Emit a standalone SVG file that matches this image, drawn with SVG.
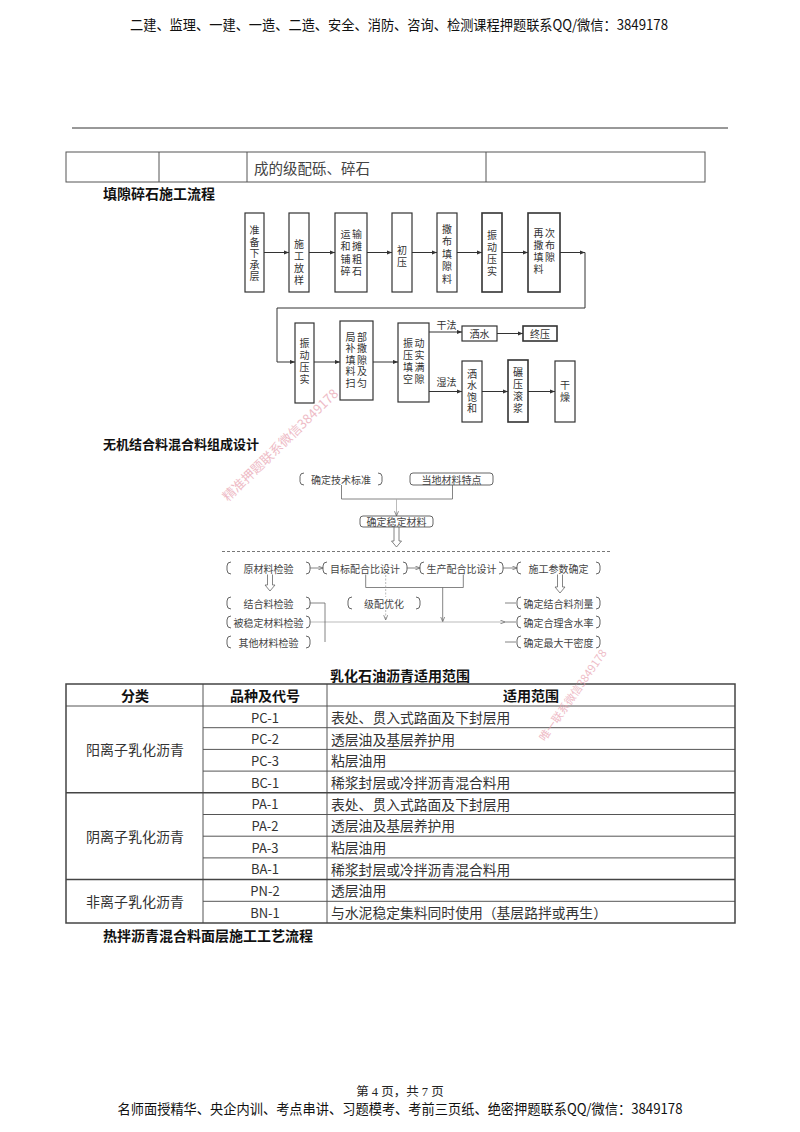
<svg xmlns="http://www.w3.org/2000/svg" width="800" height="1132" viewBox="0 0 800 1132">
<style>
text{font-family:"Noto Sans CJK SC","Noto Sans",sans-serif}
.hdr{font-size:14px;fill:#111;text-anchor:middle}
.ttl{font-size:14px;font-weight:700;fill:#111}
.box{fill:#fff;stroke:#333;stroke-width:1.2}
.t1{font-size:10px;fill:#333;text-anchor:middle;dominant-baseline:central}
.v{font-size:10px;fill:#333;text-anchor:middle;writing-mode:vertical-rl;letter-spacing:2px}
.conn{fill:none;stroke:#333;stroke-width:1}
.t2{font-size:10px;fill:#444;text-anchor:middle;dominant-baseline:central}
.br{fill:none;stroke:#555;stroke-width:0.9}
.c2{fill:none;stroke:#666;stroke-width:0.8}
.c2l{fill:none;stroke:#aaa;stroke-width:0.8}
.hol{fill:#fff;stroke:#666;stroke-width:0.8}
.tb{fill:none;stroke:#555;stroke-width:1}
.tbo{fill:none;stroke:#444;stroke-width:1.5}
.th{font-size:14px;font-weight:700;fill:#111;text-anchor:middle;dominant-baseline:central}
.tc{font-size:13px;fill:#333;text-anchor:middle;dominant-baseline:central}
.td{font-size:13.8px;fill:#333;dominant-baseline:central}
.wm{font-size:12px;fill:#e8a0ae;opacity:0.7;font-family:"Noto Sans CJK SC",serif}
</style>
<defs>
<marker id="ah" viewBox="0 0 6 6" refX="6" refY="3" markerWidth="5" markerHeight="5" orient="auto"><path d="M0,0.5 L6,3 L0,5.5z" fill="#333"/></marker>
<marker id="ah2" viewBox="0 0 6 6" refX="6" refY="3" markerWidth="6" markerHeight="6" orient="auto"><path d="M0,0.5 L6,3 L0,5.5" fill="none" stroke="#666" stroke-width="0.9"/></marker>
</defs>
<rect width="800" height="1132" fill="#fff"/>

<g id="header">
<text class="hdr" x="399" y="30" textLength="538" lengthAdjust="spacingAndGlyphs">二建、监理、一建、一造、二造、安全、消防、咨询、检测课程押题联系QQ/微信：3849178</text>
<line x1="72" y1="128" x2="728" y2="128" stroke="#333" stroke-width="1"/>
</g>

<g id="top-table">
<rect x="66" y="152" width="639" height="30" class="tb"/>
<line x1="159" y1="152" x2="159" y2="182" class="tb"/>
<line x1="247" y1="152" x2="247" y2="182" class="tb"/>
<line x1="486" y1="152" x2="486" y2="182" class="tb"/>
<text x="254" y="167" class="td" style="font-size:14.5px;fill:#444">成的级配砾、碎石</text>
</g>

<text class="ttl" x="103" y="199">填隙碎石施工流程</text>

<g id="flow1-connectors">
<line x1="264" y1="252.5" x2="289" y2="252.5" class="conn" marker-end="url(#ah)"/>
<line x1="309" y1="252.5" x2="335" y2="252.5" class="conn" marker-end="url(#ah)"/>
<line x1="367" y1="252.5" x2="392" y2="252.5" class="conn" marker-end="url(#ah)"/>
<line x1="412" y1="252.5" x2="437" y2="252.5" class="conn" marker-end="url(#ah)"/>
<line x1="457" y1="252.5" x2="482" y2="252.5" class="conn" marker-end="url(#ah)"/>
<line x1="502" y1="252.5" x2="528" y2="252.5" class="conn" marker-end="url(#ah)"/>
<line x1="560" y1="252.5" x2="585" y2="252.5" class="conn" marker-end="url(#ah)"/>
<polyline points="585,252.5 585,308 277,308 277,362 295,362" class="conn" marker-end="url(#ah)"/>
<line x1="314" y1="362" x2="340" y2="362" class="conn" marker-end="url(#ah)"/>
<line x1="373" y1="362" x2="398" y2="362" class="conn" marker-end="url(#ah)"/>
<line x1="429" y1="332" x2="462" y2="332" class="conn" marker-end="url(#ah)"/>
<line x1="497" y1="333.5" x2="523" y2="333.5" class="conn" marker-end="url(#ah)"/>
<line x1="429" y1="391.5" x2="462" y2="391.5" class="conn" marker-end="url(#ah)"/>
<line x1="482" y1="391.5" x2="508" y2="391.5" class="conn" marker-end="url(#ah)"/>
<line x1="528" y1="391.5" x2="555" y2="391.5" class="conn" marker-end="url(#ah)"/>
<text class="t1" x="446.5" y="324">干法</text>
<text class="t1" x="446.5" y="381">湿法</text>
</g>

<g id="f1-n1"><rect x="245" y="213" width="19" height="79" class="box"/>
<text class="v" x="254.5" y="254" style="letter-spacing:1.5px">准备下承层</text></g>
<g id="f1-n2"><rect x="289" y="213" width="20" height="79" class="box"/>
<text class="v" x="299" y="263">施工放样</text></g>
<g id="f1-n3"><rect x="335" y="213" width="32" height="79" class="box"/>
<text class="v" x="345.5" y="254" style="letter-spacing:2.5px">运和铺碎</text>
<text class="v" x="357" y="254" style="letter-spacing:2.5px">输摊粗石</text></g>
<g id="f1-n4"><rect x="392" y="213" width="20" height="79" class="box"/>
<text class="v" x="402" y="257">初压</text></g>
<g id="f1-n5"><rect x="437" y="213" width="20" height="79" class="box"/>
<text class="v" x="447" y="255" style="letter-spacing:2.5px">撒布填隙料</text></g>
<g id="f1-n6"><rect x="482" y="213" width="20" height="79" class="box" style="stroke-width:1.6"/>
<text class="v" x="492" y="254">振动压实</text></g>
<g id="f1-n7"><rect x="528" y="213" width="32" height="79" class="box" style="stroke-width:1.6"/>
<text class="v" x="538.5" y="252.5">再撒填料</text>
<text class="v" x="550" y="246.5">次布隙</text></g>

<g id="f1-m1"><rect x="295" y="323" width="19" height="80" class="box"/>
<text class="v" x="304.5" y="362">振动压实</text></g>
<g id="f1-m2"><rect x="340" y="321" width="33" height="79" class="box"/>
<text class="v" x="350.5" y="360.5" style="letter-spacing:1.5px">局补填料扫</text>
<text class="v" x="362" y="360.5" style="letter-spacing:1.5px">部撒隙及匀</text></g>
<g id="f1-m3"><rect x="398" y="323" width="31" height="79" class="box"/>
<text class="v" x="408" y="362">振压填空</text>
<text class="v" x="419.5" y="362">动实满隙</text></g>
<g id="f1-m4"><rect x="462" y="326" width="35" height="15" class="box"/><text class="t1" x="479.5" y="333.5">洒水</text></g>
<g id="f1-m5"><rect x="523" y="326" width="34" height="15" class="box" style="stroke-width:1.6"/><text class="t1" x="540" y="333.5">终压</text></g>
<g id="f1-m6"><rect x="462" y="361" width="20" height="61" class="box"/>
<text class="v" x="472" y="392" style="letter-spacing:1.5px">洒水饱和</text></g>
<g id="f1-m7"><rect x="508" y="360" width="20" height="62" class="box" style="stroke-width:1.6"/>
<text class="v" x="518" y="391.5">碾压滚浆</text></g>
<g id="f1-m8"><rect x="555" y="361" width="20" height="61" class="box"/>
<text class="v" x="565" y="392.5">干燥</text></g>

<text class="ttl" x="103" y="449" style="font-size:13px">无机结合料混合料组成设计</text>

<g id="flow2-connectors">
<polyline points="341.5,485 341.5,499 452.5,499 452.5,485" class="c2"/>
<line x1="396.5" y1="499" x2="396.5" y2="516" class="c2l" marker-end="url(#ah2)"/>
<path d="M394,527 V541 H391.5 L396.5,547 L401.5,541 H399 V527" class="hol"/>
<line x1="222" y1="551.5" x2="610" y2="551.5" stroke="#555" stroke-width="0.8" stroke-dasharray="3,2"/>
<line x1="310" y1="568" x2="323" y2="568" class="c2" marker-end="url(#ah2)"/>
<line x1="407" y1="568" x2="420" y2="568" class="c2" marker-end="url(#ah2)"/>
<line x1="503" y1="568" x2="517" y2="568" class="c2" marker-end="url(#ah2)"/>
<path d="M267.5,574.5 V585 H265 L270,591 L275,585 H272.5 V574.5" class="hol"/>
<path d="M557.5,574.5 V587 H555 L560,593 L565,587 H562.5 V574.5" class="hol"/>
<polyline points="365.7,574.5 365.7,587.5 463.3,587.5 463.3,574.5" class="c2"/>
<line x1="442.7" y1="587.5" x2="442.7" y2="621.7" class="c2" marker-end="url(#ah2)"/>
<line x1="385.7" y1="575" x2="385.7" y2="620" class="c2l" stroke-dasharray="2,1.5" marker-end="url(#ah2)"/>
<line x1="310" y1="622" x2="505" y2="622" class="c2l" marker-end="url(#ah2)"/>
<polyline points="310,603 325,603 325,642" class="c2"/>
<line x1="505" y1="603" x2="516" y2="603" class="c2"/>
<line x1="505" y1="622" x2="516" y2="622" class="c2"/>
<line x1="505" y1="642" x2="516" y2="642" class="c2"/>
</g>

<g id="f2-k1"><path d="M304,473 Q300,473 300,476.5 V481.5 Q300,485 304,485 M378,473 Q382,473 382,476.5 V481.5 Q382,485 378,485" class="br"/><text class="t2" x="341" y="479">确定技术标准</text></g>
<g id="f2-k2"><rect x="410" y="473" width="83" height="12" rx="3" class="br"/><text class="t2" x="451.5" y="479">当地材料特点</text></g>
<g id="f2-k3"><rect x="360" y="516" width="73" height="11" rx="3" class="br" style="fill:#fff"/><text class="t2" x="396.5" y="521.5">确定稳定材料</text></g>

<g id="f2-r1"><path d="M231,562 Q227,562 227,566 V570 Q227,574 231,574 M306,562 Q310,562 310,566 V570 Q310,574 306,574" class="br"/><text class="t2" x="268.5" y="568">原材料检验</text></g>
<g id="f2-r2"><path d="M327,562 Q323,562 323,566 V570 Q323,574 327,574 M403,562 Q407,562 407,566 V570 Q407,574 403,574" class="br"/><text class="t2" x="365" y="568">目标配合比设计</text></g>
<g id="f2-r3"><path d="M424,562 Q420,562 420,566 V570 Q420,574 424,574 M499,562 Q503,562 503,566 V570 Q503,574 499,574" class="br"/><text class="t2" x="461.5" y="568">生产配合比设计</text></g>
<g id="f2-r4"><path d="M521,562 Q517,562 517,566 V570 Q517,574 521,574 M596,562 Q600,562 600,566 V570 Q600,574 596,574" class="br"/><text class="t2" x="558.5" y="568">施工参数确定</text></g>
<g id="f2-s1"><path d="M231,597 Q227,597 227,601 V605 Q227,609 231,609 M306,597 Q310,597 310,601 V605 Q310,609 306,609" class="br"/><text class="t2" x="268.5" y="603">结合料检验</text></g>
<g id="f2-s2"><path d="M231,616 Q227,616 227,620 V624 Q227,628 231,628 M306,616 Q310,616 310,620 V624 Q310,628 306,628" class="br"/><text class="t2" x="268.5" y="622">被稳定材料检验</text></g>
<g id="f2-s3"><path d="M231,636 Q227,636 227,640 V644 Q227,648 231,648 M306,636 Q310,636 310,640 V644 Q310,648 306,648" class="br"/><text class="t2" x="268.5" y="642">其他材料检验</text></g>
<g id="f2-g"><rect x="348" y="597" width="72" height="12" fill="#fff"/><path d="M352,597 Q348,597 348,601 V605 Q348,609 352,609 M416,597 Q420,597 420,601 V605 Q420,609 416,609" class="br"/><text class="t2" x="384" y="603">级配优化</text></g>
<g id="f2-e1"><path d="M521,597 Q517,597 517,601 V605 Q517,609 521,609 M596,597 Q600,597 600,601 V605 Q600,609 596,609" class="br"/><text class="t2" x="558.5" y="603">确定结合料剂量</text></g>
<g id="f2-e2"><path d="M521,616 Q517,616 517,620 V624 Q517,628 521,628 M596,616 Q600,616 600,620 V624 Q600,628 596,628" class="br"/><text class="t2" x="558.5" y="622">确定合理含水率</text></g>
<g id="f2-e3"><path d="M521,636 Q517,636 517,640 V644 Q517,648 521,648 M596,636 Q600,636 600,640 V644 Q600,648 596,648" class="br"/><text class="t2" x="558.5" y="642">确定最大干密度</text></g>

<g id="emulsion-table">
<text class="ttl" x="400" y="681" text-anchor="middle">乳化石油沥青适用范围</text>
<line x1="203" y1="684" x2="203" y2="923" class="tb"/>
<line x1="327" y1="684" x2="327" y2="923" class="tb"/>
<line x1="66" y1="706" x2="735" y2="706" class="tb"/>
<line x1="203" y1="727.7" x2="735" y2="727.7" class="tb"/>
<line x1="203" y1="749.4" x2="735" y2="749.4" class="tb"/>
<line x1="203" y1="771.1" x2="735" y2="771.1" class="tb"/>
<line x1="66" y1="792.8" x2="735" y2="792.8" class="tbo"/>
<line x1="203" y1="814.5" x2="735" y2="814.5" class="tb"/>
<line x1="203" y1="836.2" x2="735" y2="836.2" class="tb"/>
<line x1="203" y1="857.9" x2="735" y2="857.9" class="tb"/>
<line x1="66" y1="879.6" x2="735" y2="879.6" class="tbo"/>
<line x1="203" y1="901.3" x2="735" y2="901.3" class="tb"/>
<rect x="66" y="684" width="669" height="239" class="tbo"/>
<text class="th" x="135" y="695">分类</text>
<text class="th" x="265" y="695">品种及代号</text>
<text class="th" x="531" y="695">适用范围</text>
<text class="td" x="135" y="749.4" text-anchor="middle" style="font-size:14px">阳离子乳化沥青</text>
<text class="td" x="135" y="836.2" text-anchor="middle" style="font-size:14px">阴离子乳化沥青</text>
<text class="td" x="135" y="901.3" text-anchor="middle" style="font-size:14px">非离子乳化沥青</text>
<text class="tc" x="265" y="717">PC-1</text>
<text class="tc" x="265" y="738.5">PC-2</text>
<text class="tc" x="265" y="760.2">PC-3</text>
<text class="tc" x="265" y="782">BC-1</text>
<text class="tc" x="265" y="803.6">PA-1</text>
<text class="tc" x="265" y="825.3">PA-2</text>
<text class="tc" x="265" y="847">PA-3</text>
<text class="tc" x="265" y="868.7">BA-1</text>
<text class="tc" x="265" y="890.4">PN-2</text>
<text class="tc" x="265" y="912.1">BN-1</text>
<text class="td" x="331" y="717">表处、贯入式路面及下封层用</text>
<text class="td" x="331" y="738.5">透层油及基层养护用</text>
<text class="td" x="331" y="760.2">粘层油用</text>
<text class="td" x="331" y="782">稀浆封层或冷拌沥青混合料用</text>
<text class="td" x="331" y="803.6">表处、贯入式路面及下封层用</text>
<text class="td" x="331" y="825.3">透层油及基层养护用</text>
<text class="td" x="331" y="847">粘层油用</text>
<text class="td" x="331" y="868.7">稀浆封层或冷拌沥青混合料用</text>
<text class="td" x="331" y="890.4">透层油用</text>
<text class="td" x="331" y="912.1">与水泥稳定集料同时使用（基层路拌或再生）</text>
</g>

<text class="ttl" x="103" y="941">热拌沥青混合料面层施工工艺流程</text>

<g id="watermarks">
<text class="wm" transform="translate(228,502) rotate(-44)" style="font-size:13px">精准押题联系微信3849178</text>
<text class="wm" transform="translate(545,742) rotate(-55)" style="font-size:11px">唯一联系微信3849178</text>
</g>

<g id="footer">
<text x="400" y="1096" text-anchor="middle" style="font-family:'Liberation Serif','Noto Sans CJK SC',serif;font-size:12.5px;fill:#222">第 4 页，共 7 页</text>
<text class="hdr" x="400" y="1114" textLength="565" lengthAdjust="spacingAndGlyphs">名师面授精华、央企内训、考点串讲、习题模考、考前三页纸、绝密押题联系QQ/微信：3849178</text>
</g>
</svg>
